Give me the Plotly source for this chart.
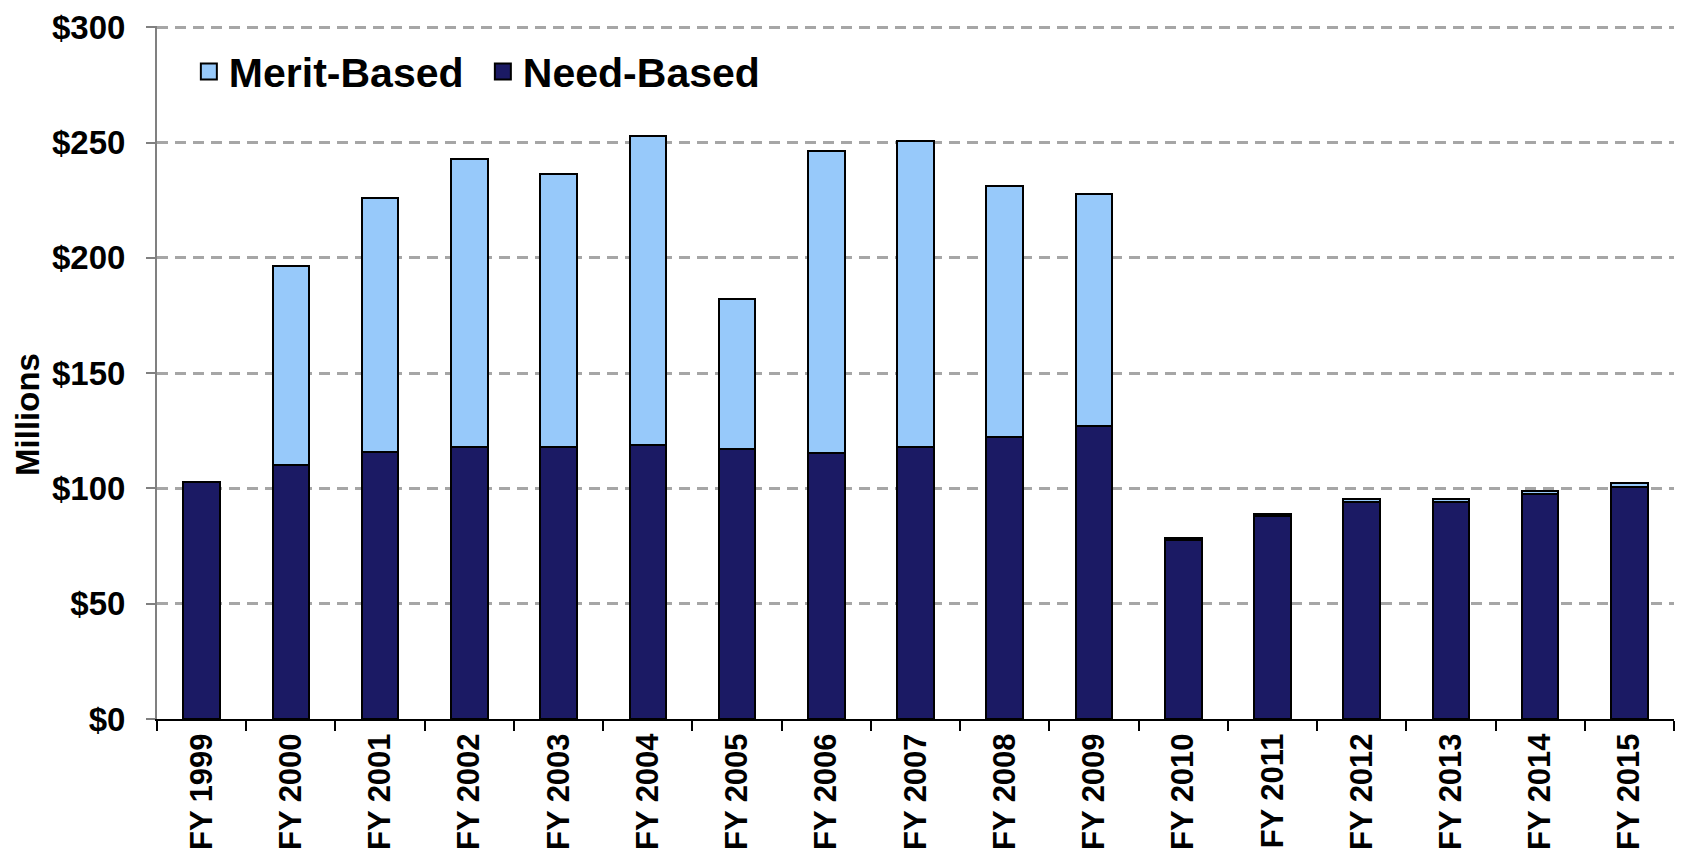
import plotly.graph_objects as go

# --------------------------
# DATA
# --------------------------
years = ["FY 1999", "FY 2000", "FY 2001", "FY 2002", "FY 2003", "FY 2004",
         "FY 2005", "FY 2006", "FY 2007", "FY 2008", "FY 2009", "FY 2010",
         "FY 2011", "FY 2012", "FY 2013", "FY 2014", "FY 2015"]

need_based = [103, 110, 116, 118, 118, 119, 117, 115.5, 118, 122.5, 127,
              77.8, 88, 94, 94, 97.5, 100.5]

merit_based = [0, 86.3, 110.1, 124.8, 118.3, 134, 65.3, 130.7, 132.6, 108.8,
               100.7, 0.9, 1.0, 1.3, 1.3, 1.3, 1.8]

y_ticks = [0, 50, 100, 150, 200, 250, 300]
y_tick_labels = ["$0", "$50", "$100", "$150", "$200", "$250", "$300"]

FONT = "Arial, Liberation Sans, sans-serif"
NEED_COLOR = "#1B1A64"
MERIT_COLOR = "#97C9FA"

# --------------------------
# BARS
# --------------------------
fig = go.Figure()

fig.add_trace(go.Bar(
    x=years, y=need_based, name="Need-Based",
    marker=dict(color=NEED_COLOR, line=dict(color="#000000", width=2)),
    showlegend=False,
))

fig.add_trace(go.Bar(
    x=years, y=merit_based, name="Merit-Based",
    marker=dict(color=MERIT_COLOR, line=dict(color="#000000", width=2)),
    showlegend=False,
))

# legend entries with bigger square swatches
for name, color in [("Merit-Based", MERIT_COLOR), ("Need-Based", NEED_COLOR)]:
    fig.add_trace(go.Scatter(
        x=[None], y=[None], mode="markers", name=name,
        marker=dict(symbol="square", size=22, color=color,
                    line=dict(color="#000000", width=2)),
    ))

# --------------------------
# LAYOUT
# --------------------------
fig.update_layout(
    barmode="stack",
    bargap=0.59,
    width=1667, height=845,
    margin=dict(l=149, r=1, t=15, b=134),
    paper_bgcolor="#ffffff",
    plot_bgcolor="#ffffff",
    font=dict(family=FONT, size=31, color="#000000"),
    legend=dict(
        orientation="h", traceorder="normal",
        x=0.021, y=0.934, xanchor="left", yanchor="middle",
        font=dict(family=FONT, size=41, color="#000000", weight="bold"),
        bgcolor="rgba(0,0,0,0)",
        itemwidth=30,
        entrywidth=249, entrywidthmode="pixels",
    ),
    showlegend=True,
)

# y title placed as annotation (sits below the axis middle in the reference)
fig.add_annotation(
    text="<b>Millions</b>", textangle=-90,
    xref="paper", yref="paper", x=-0.0858, y=0.44,
    xanchor="center", yanchor="middle", showarrow=False,
    font=dict(family=FONT, size=33, color="#000000"),
)

fig.update_yaxes(
    range=[0, 300.6],
    tickvals=y_ticks, ticktext=y_tick_labels,
    tickfont=dict(family=FONT, size=33, color="#000000", weight="bold"),
    ticklabelstandoff=14, ticklabeloverflow="allow",
    showgrid=True, gridcolor="#A6A6A6", gridwidth=2.5, griddash="11px,7px",
    showline=True, linecolor="#808080", linewidth=2,
    ticks="outside", ticklen=9, tickcolor="#808080", tickwidth=2,
    zeroline=False,
)

fig.update_xaxes(
    tickangle=-90,
    tickfont=dict(family=FONT, size=31, color="#000000", weight="bold"),
    showline=True, linecolor="#000000", linewidth=2,
    ticks="outside", tickson="boundaries", ticklen=10, tickcolor="#000000", tickwidth=2,
    showgrid=False,
)

fig.write_html("out.html")
